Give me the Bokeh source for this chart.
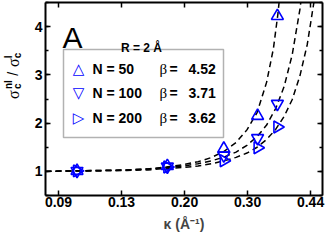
import math
from bokeh.plotting import figure
from bokeh.layouts import row
from bokeh.models import (LogAxis, LinearAxis, FixedTicker, SingleIntervalTicker, Range1d,
                          Label, BoxAnnotation, CustomJSTickFormatter)
from bokeh.embed import file_html
from bokeh.resources import INLINE

# ---------------- data ----------------
kappa = [0.102, 0.181, 0.259, 0.321, 0.364]
ratio_n50 = [1.01, 1.11, 1.47, 2.15, 4.22]
ratio_n100 = [1.01, 1.10, 1.33, 1.69, 2.40]
ratio_n200 = [1.01, 1.09, 1.22, 1.49, 1.92]

fit_kappa_n50 = [0.0835, 0.10, 0.12, 0.14, 0.16, 0.18, 0.20, 0.22, 0.24, 0.26, 0.28,
                 0.30, 0.32, 0.34, 0.355, 0.365, 0.375]
fit_n50 = [1.00, 1.01, 1.02, 1.03, 1.05, 1.09, 1.14, 1.20, 1.29, 1.42, 1.60,
           1.86, 2.22, 2.85, 3.55, 4.25, 5.10]

fit_kappa_n100 = [0.0835, 0.10, 0.12, 0.14, 0.16, 0.18, 0.20, 0.22, 0.24, 0.26, 0.28,
                  0.30, 0.32, 0.34, 0.36, 0.38, 0.40, 0.42, 0.43]
fit_n100 = [1.00, 1.01, 1.02, 1.03, 1.05, 1.08, 1.11, 1.16, 1.22, 1.30, 1.40,
            1.54, 1.72, 1.96, 2.30, 2.76, 3.42, 4.36, 4.99]

fit_kappa_n200 = [0.0835, 0.10, 0.12, 0.14, 0.16, 0.18, 0.20, 0.22, 0.24, 0.26, 0.28,
                  0.30, 0.32, 0.34, 0.36, 0.38, 0.40, 0.42, 0.44, 0.46, 0.47]
fit_n200 = [1.00, 1.01, 1.01, 1.02, 1.03, 1.06, 1.08, 1.11, 1.16, 1.22, 1.29,
            1.38, 1.50, 1.66, 1.87, 2.14, 2.49, 2.98, 3.63, 4.55, 5.14]

series_labels = ["N = 50", "N = 100", "N = 200"]
series_keys = ["△", "▽", "▷"]
beta_values = ["4.52", "3.71", "3.62"]
panel_letter = "A"
legend_title = "R = 2 Å"
x_tick_values = [0.0907, 0.1353, 0.2019, 0.3012, 0.4493]
x_tick_labels = ["0.09", "0.13", "0.20", "0.30", "0.44"]
x_label = "κ (Å⁻¹)"

# ---------------- layout (page pixels, page has no margin) ----------------
LW = 24                      # strip holding the y-axis title
W, H = 327, 242
FL, FR, FT, FB = 45, 322, 2, 195
XMIN = 0.0835
PX_PER_LN = 157.5
XMAX = XMIN * math.exp((FR - FL) / PX_PER_LN)
YMIN, YMAX = 0.5, 4.5


def sx(px):
    return XMIN * math.exp((px - FL) / PX_PER_LN)


def sy(py):
    return YMIN + (FB - py) * (YMAX - YMIN) / (FB - FT)


SANS = "Liberation Sans"
SERIF = "Liberation Serif"
BLUE = "#0000ff"

p = figure(width=W - LW, height=H, x_axis_type="log",
           x_range=Range1d(XMIN, XMAX), y_range=Range1d(YMIN, YMAX),
           output_backend="svg", toolbar_location=None,
           min_border_left=FL - LW, min_border_right=W - FR,
           min_border_top=FT, min_border_bottom=H - FB)
p.outline_line_color = None
p.grid.visible = False
p.background_fill_color = "white"
p.border_fill_color = "white"

xt = FixedTicker(ticks=x_tick_values)
yt = SingleIntervalTicker(interval=1, num_minor_ticks=2)


def style_axis(ax):
    ax.axis_line_width = 2
    ax.axis_line_color = "black"
    ax.major_tick_in = 5
    ax.major_tick_out = 0
    ax.minor_tick_in = 3
    ax.minor_tick_out = 0
    ax.major_tick_line_width = 1.5
    ax.minor_tick_line_width = 1.5
    ax.major_label_text_font = SANS
    ax.major_label_text_font_style = "bold"
    ax.major_label_text_font_size = "14px"
    ax.major_label_text_color = "black"


xb = p.below[0]
style_axis(xb)
xb.ticker = xt
xb.major_label_overrides = dict(zip(x_tick_values, x_tick_labels))
xb.major_label_standoff = 1
xb.axis_label = x_label
xb.axis_label_text_font = SANS
xb.axis_label_text_font_style = "bold"
xb.axis_label_text_font_size = "14px"
xb.axis_label_standoff = 6

yl = p.left[0]
style_axis(yl)
yl.ticker = yt
yl.major_label_standoff = 3

xa = LogAxis(ticker=xt, formatter=CustomJSTickFormatter(code="return ''"))
style_axis(xa)
xa.major_label_standoff = 0
xa.major_label_text_font_size = "1px"
p.add_layout(xa, "above")

yr = LinearAxis(ticker=yt, formatter=CustomJSTickFormatter(code="return ''"))
style_axis(yr)
yr.major_label_standoff = 0
yr.major_label_text_font_size = "1px"
p.add_layout(yr, "right")

# ---------------- fitted curves ----------------
for fk, fv in [(fit_kappa_n50, fit_n50), (fit_kappa_n100, fit_n100), (fit_kappa_n200, fit_n200)]:
    p.line(fk, fv, line_color="black", line_width=1.5, line_dash="6 4")

# ---------------- markers ----------------
p.scatter(kappa, ratio_n50, marker="triangle", size=12,
          line_color=BLUE, fill_color=None, line_width=1.6)
p.scatter(kappa, ratio_n100, marker="inverted_triangle", size=12,
          line_color=BLUE, fill_color=None, line_width=1.6)
p.scatter(kappa, ratio_n200, marker="triangle", angle=-math.pi / 2, size=12,
          line_color=BLUE, fill_color=None, line_width=1.6)


def add_label(fig, x, y, text, size, font=SANS, style="normal", align="left",
              baseline="middle", angle=0.0, color="black"):
    fig.add_layout(Label(x=x, y=y, text=text, text_font=font,
                         text_font_style=style, text_font_size=f"{size}px",
                         text_align=align, text_baseline=baseline, text_color=color,
                         angle=angle, angle_units="rad", level="overlay"))


# ---------------- legend box ----------------
BOX_L, BOX_R, BOX_T, BOX_B = 63, 223, 49, 137
p.add_layout(BoxAnnotation(left=sx(BOX_L), right=sx(BOX_R), top=sy(BOX_T), bottom=sy(BOX_B),
                           fill_color="white", fill_alpha=1.0,
                           line_color="black", line_width=1.5, level="annotation"))
ROWS = [68, 92.5, 117]
for i, py in enumerate(ROWS):
    add_label(p, sx(78), sy(py), series_keys[i], 15, font="DejaVu Sans", style="bold",
              align="center", color=BLUE)
    add_label(p, sx(92), sy(py), series_labels[i], 14, style="bold")
    add_label(p, sx(159), sy(py), "β", 15, font=SERIF)
    add_label(p, sx(169), sy(py), "=", 14, style="bold")
    add_label(p, sx(188), sy(py), beta_values[i], 14, style="bold")

add_label(p, sx(141), sy(47), legend_title, 12, style="bold", align="center",
          baseline="alphabetic")
add_label(p, sx(62), sy(37), panel_letter, 30, baseline="alphabetic")

# ---------------- y-axis title strip: sigma_c^nl / sigma_c^l ----------------
t = figure(width=LW, height=H, x_range=Range1d(0, LW), y_range=Range1d(H, 0),
           output_backend="svg", toolbar_location=None,
           x_axis_location=None, y_axis_location=None,
           min_border_left=0, min_border_right=0, min_border_top=0, min_border_bottom=0)
t.outline_line_color = None
t.grid.visible = False
t.background_fill_color = "white"
t.border_fill_color = "white"

ROT = math.pi / 2
add_label(t, 12.5, 121, "σ", 16, font=SERIF, angle=ROT)
add_label(t, 8, 108.5, "nl", 10, style="bold", angle=ROT)
add_label(t, 16.5, 108.5, "c", 10, style="bold", angle=ROT)
add_label(t, 12.5, 92, "/", 14, angle=ROT)
add_label(t, 12.5, 81, "σ", 16, font=SERIF, angle=ROT)
add_label(t, 8, 70, "l", 10, style="bold", angle=ROT)
add_label(t, 16.5, 70, "c", 10, style="bold", angle=ROT)

layout = row(t, p, spacing=0)
open("out.html", "w").write(file_html(layout, INLINE))
